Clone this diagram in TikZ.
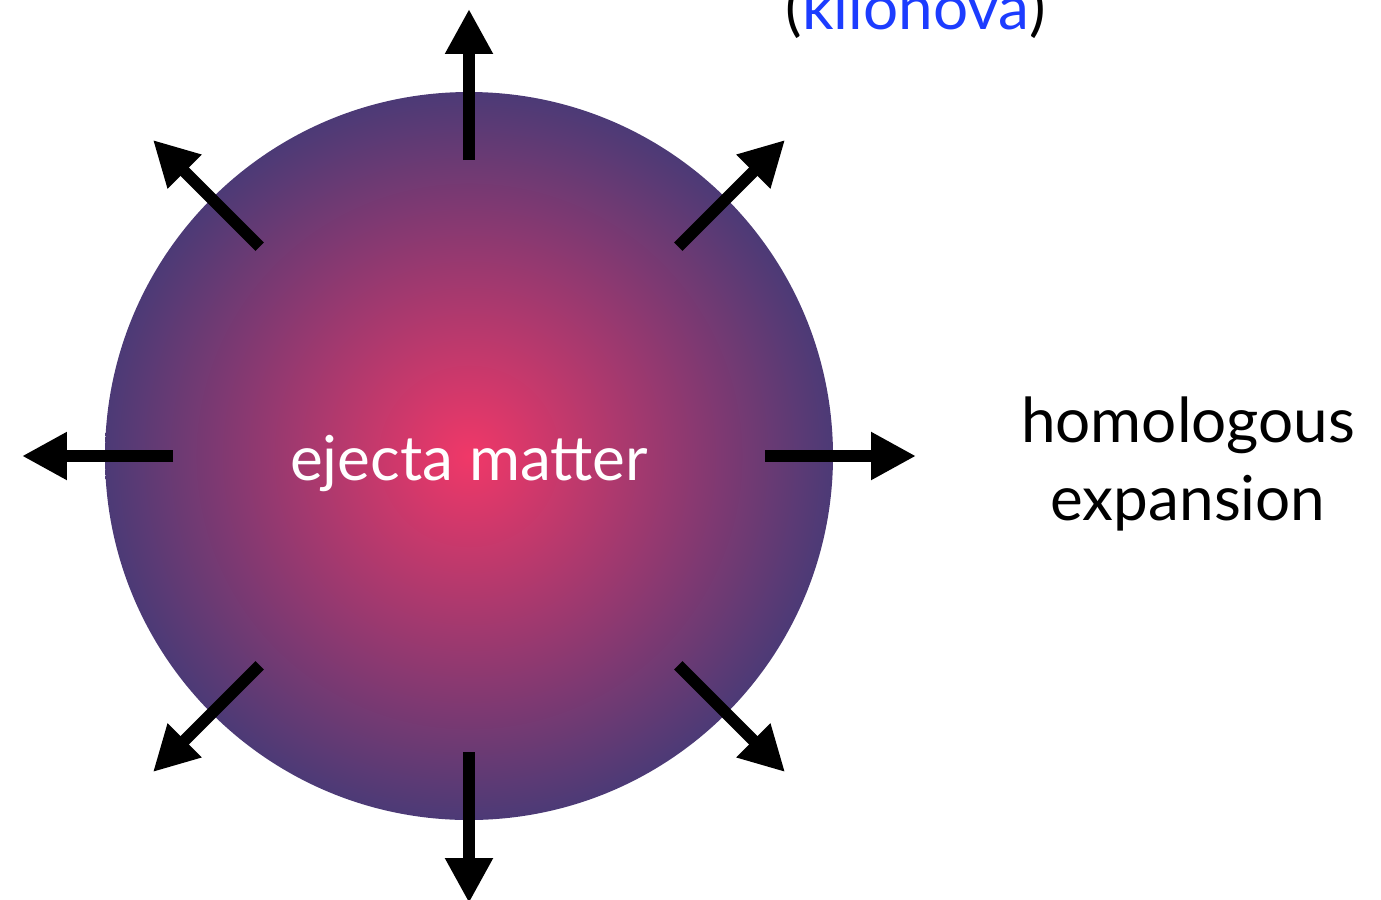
\documentclass[tikz,border=0pt]{standalone}
\usepackage{fontspec}
\setmainfont{Lato}
\usetikzlibrary{positioning,calc,arrows.meta}
\definecolor{EjectaPink}{RGB}{240,56,104}
\definecolor{EjectaPurple}{RGB}{76,58,118}
\definecolor{KiloBlue}{RGB}{28,60,255}

\begin{document}
\begin{tikzpicture}[
    x=0.02cm, y=-0.02cm,
    font=\fontsize{35.3}{44.4}\selectfont,
    outarrow/.style={
        -{Triangle[length=25.6pt,width=25.6pt]},
        line width=6.8pt,
        draw=black
    },
    label/.style={
        align=center,
        inner sep=0pt
    }
]
\useasboundingbox (0,0) rectangle (1381,899);

% expanding ejecta
\coordinate (c) at (469,456);
\shade[inner color=EjectaPink, outer color=EjectaPurple] (c) circle[radius=364];

\node[label, text=white, anchor=base] (ejecta) at (469,480) {ejecta matter};

% radial arrows
\foreach \a in {0,45,...,315}{
    \coordinate (s\a) at ($(c)+(\a:296)$);
    \coordinate (e\a) at ($(c)+(\a:447)$);
    \draw[outarrow] (s\a) -- (e\a);
}

\node[label, anchor=base] (kilo) at (916,30) {(\textcolor{KiloBlue}{kilonova})};
\node[label, anchor=base] (homol) at (1188,520) {homologous\\expansion};

\end{tikzpicture}
\end{document}
